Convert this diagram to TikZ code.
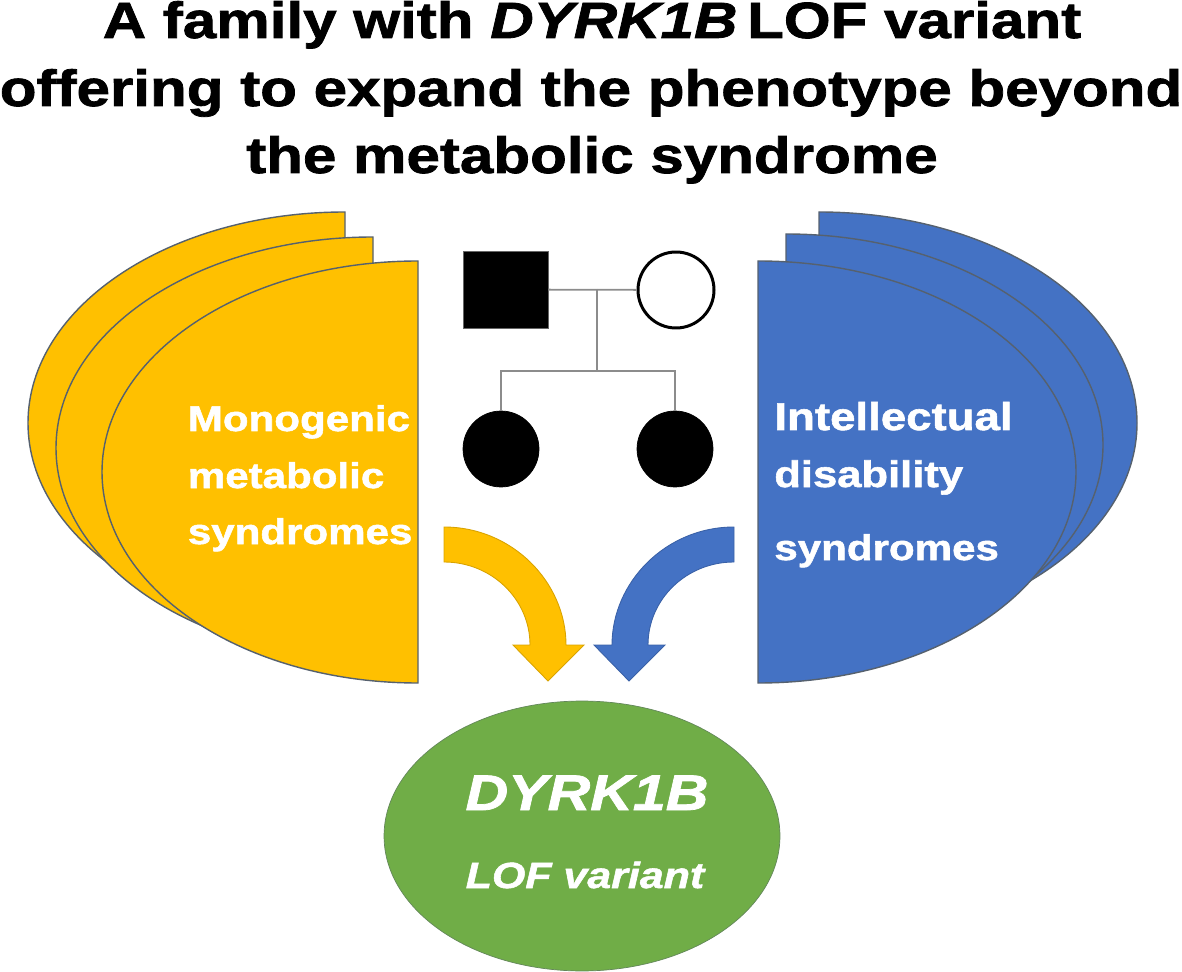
\documentclass[tikz,border=0pt]{standalone}
\usepackage{fontspec}
\setmainfont{Liberation Sans}[FakeStretch=1.18,FakeBold=1.5]
\usetikzlibrary{shapes.geometric}
\definecolor{syndorange}{HTML}{FFC000}
\definecolor{syndblue}{HTML}{4472C4}
\definecolor{variantgreen}{HTML}{70AD47}
\definecolor{syndedge}{HTML}{56616E}
\tikzset{
  lobe/.style={draw=syndedge,line width=0.8pt},
  curvearrow/.style={line width=0.5pt,line join=miter},
  pedline/.style={draw=black!45,line width=1pt},
  person/.style={circle,draw=black,inner sep=0pt,minimum size=1.52cm},
  whitelabel/.style={text=white,font=\bfseries\fontsize{20.3}{24}\selectfont,anchor=base west,inner sep=0pt},
  titleline/.style={font=\bfseries\fontsize{29}{34}\selectfont,anchor=base,inner sep=0pt}
}
\begin{document}
\begin{tikzpicture}[x=0.02cm,y=-0.02cm,every node/.style={align=center}]
\useasboundingbox (0,0) rectangle (1182,972);
\node[titleline] (t1) at (592,38) {A family with \textit{DYRK1B}\kern-4pt\ LOF variant};
\node[titleline] (t2) at (591,106) {offering to expand the phenotype beyond};
\node[titleline] (t3) at (592,173) {the metabolic syndrome};
\draw[lobe,fill=syndorange] (345,212) arc[start angle=270,end angle=90,x radius=317,y radius=211] -- cycle;
\draw[lobe,fill=syndorange] (373,237) arc[start angle=270,end angle=90,x radius=317,y radius=211] -- cycle;
\draw[lobe,fill=syndorange] (418,261) arc[start angle=270,end angle=90,x radius=316,y radius=211] -- cycle;
\draw[lobe,fill=syndblue] (819,212) arc[start angle=270,end angle=450,x radius=318,y radius=211] -- cycle;
\draw[lobe,fill=syndblue] (786,234) arc[start angle=270,end angle=450,x radius=317,y radius=211] -- cycle;
\draw[lobe,fill=syndblue] (758,261) arc[start angle=270,end angle=450,x radius=318,y radius=211] -- cycle;
\node[whitelabel] (m1) at (187.5,431) {Monogenic};
\node[whitelabel] (m2) at (187.5,488) {metabolic};
\node[whitelabel] (m3) at (187.5,544) {syndromes};
\node[whitelabel,font=\bfseries\fontsize{22}{24}\selectfont] (i1) at (774,430) {Intellectual};
\node[whitelabel,font=\bfseries\fontsize{21}{24}\selectfont] (i2) at (774,487) {disability};
\node[whitelabel] (i3) at (774,560) {syndromes};
\node[draw=black!60,fill=black,inner sep=0pt,minimum width=1.7cm,minimum height=1.54cm] (father) at (505.5,289.5) {};
\node[person,fill=white,line width=1.7pt] (mother) at (676,290) {};
\node[person,fill=black] (girla) at (501,449) {};
\node[person,fill=black] (girlb) at (675,449) {};
\coordinate (mate) at (597,289);
\coordinate (sibs) at (597,371);
\draw[pedline] (father) -- (mother);
\draw[pedline] (mate) -- (sibs);
\draw[pedline] (girla) |- (sibs) -| (girlb);
\draw[curvearrow,draw=syndorange!85!black,fill=syndorange] (444,527) .. controls (512,527) and (566,582) .. (566,645)
  -- (584,645) -- (548,681) -- (513,645) -- (530,645)
  arc[start angle=360,end angle=270,x radius=86,y radius=83] -- cycle;
\draw[curvearrow,draw=syndblue!85!black,fill=syndblue] (734,527) .. controls (666,527) and (612,582) .. (612,645)
  -- (594,645) -- (629,681) -- (665,645) -- (648,645)
  arc[start angle=180,end angle=270,x radius=86,y radius=83] -- cycle;
\node[ellipse,draw=syndedge!50!variantgreen,fill=variantgreen,inner sep=0pt,minimum width=7.92cm,minimum height=5.4cm] (variant) at (582,836) {};
\node[text=white,font=\bfseries\itshape\fontsize{28.5}{32}\selectfont,anchor=base,inner sep=0pt] (gene) at (587,810) {DYRK1B};
\node[text=white,font=\bfseries\itshape\fontsize{20.7}{24}\selectfont,anchor=base,inner sep=0pt] (lof) at (585,888) {LOF variant};
\end{tikzpicture}
\end{document}
